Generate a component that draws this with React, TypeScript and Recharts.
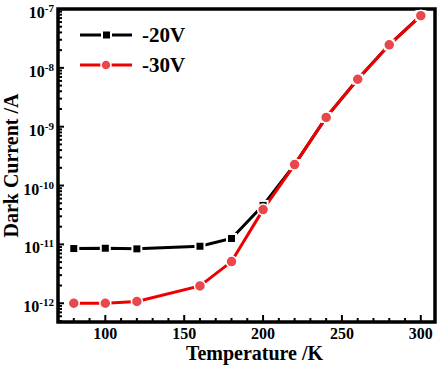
import { LineChart, Line, XAxis, YAxis, Legend, ReferenceArea } from 'recharts';

const temperatures = [80, 100, 120, 160, 180, 200, 220, 240, 260, 280, 300];
const current20V = [8.5e-12, 8.6e-12, 8.4e-12, 9.3e-12, 1.26e-11, 4.6e-11, 2.27e-10, 1.44e-9, 6.4e-9, 2.46e-8, 7.7e-8];
const current30V = [1.0e-12, 1.0e-12, 1.07e-12, 1.97e-12, 5.1e-12, 3.9e-11, 2.27e-10, 1.44e-9, 6.4e-9, 2.46e-8, 7.7e-8];

const xTicks = [80, 90, 100, 110, 120, 130, 140, 150, 160, 170, 180, 190, 200, 210, 220, 230, 240, 250, 260, 270, 280, 290, 300];
const xLabels = [100, 150, 200, 250, 300];
const yDecades = [-13, -12, -11, -10, -9, -8];
const yMantissas = [1, 2, 3, 4, 5, 6, 7, 8, 9];

const X_DOMAIN: [number, number] = [70, 309];
const Y_DOMAIN: [number, number] = [4.8e-13, 1e-7];

const yTicks = [
  ...yDecades.flatMap((e) => yMantissas.map((m) => m * Math.pow(10, e))),
  1e-7,
].filter((v) => v >= Y_DOMAIN[0] && v <= Y_DOMAIN[1]);

const data = temperatures.map((t, i) => ({
  t,
  v20: current20V[i],
  v30: current30V[i],
}));

const FONT = '"Liberation Serif", "Times New Roman", serif';
const RED_LINE = '#ee0000';
const RED_DOT = '#e8474c';

function XTick(props: any) {
  const { x, y, payload } = props;
  const v = payload.value;
  const major = v % 50 === 0;
  return (
    <g>
      <line x1={x} x2={x} y1={y} y2={y - (major ? 7 : 4)} stroke="#000" strokeWidth={2} />
      {major && xLabels.includes(v) && (
        <text x={x} y={y + 17} textAnchor="middle" fontFamily={FONT} fontWeight="bold" fontSize={16} fill="#000">
          {v}
        </text>
      )}
    </g>
  );
}

function YTick(props: any) {
  const { x, y, payload } = props;
  const v = payload.value;
  const exp = Math.round(Math.log10(v));
  const major = Math.abs(v / Math.pow(10, exp) - 1) < 1e-6;
  return (
    <g>
      <line x1={x} x2={x + (major ? 6 : 4)} y1={y} y2={y} stroke="#000" strokeWidth={2} />
      {major && (
        <text x={x - 4} y={y + 9} textAnchor="end" fontFamily={FONT} fontWeight="bold" fontSize={16} fill="#000">
          <tspan>10</tspan>
          <tspan fontSize={11} dy={-6}>{String(exp)}</tspan>
        </text>
      )}
    </g>
  );
}

function SquareDot(props: any) {
  const { cx, cy, index } = props;
  if (cx == null || cy == null) return null;
  return <rect key={`s${index}`} x={cx - 4.5} y={cy - 4.5} width={9} height={9} fill="#000" stroke="#fff" strokeWidth={2} />;
}

function CircleDot(props: any) {
  const { cx, cy, index } = props;
  if (cx == null || cy == null) return null;
  return <circle key={`c${index}`} cx={cx} cy={cy} r={5.5} fill={RED_DOT} stroke="#fff" strokeWidth={1.5} />;
}

function LegendBox() {
  const items = [
    { name: '-20V', color: '#000', shape: 'square', y: 35 },
    { name: '-30V', color: RED_LINE, shape: 'circle', y: 65 },
  ];
  return (
    <svg width={200} height={90} style={{ display: 'block' }}>
      {items.map((it) => (
        <g key={it.name}>
          <line x1={80} x2={132} y1={it.y} y2={it.y} stroke={it.color} strokeWidth={3} />
          {it.shape === 'square' ? (
            <rect x={102} y={it.y - 4.5} width={9} height={9} fill="#000" stroke="#fff" strokeWidth={2} />
          ) : (
            <circle cx={106} cy={it.y} r={5} fill={RED_DOT} stroke="#fff" strokeWidth={1.5} />
          )}
          <text x={142} y={it.y + 7} fontFamily={FONT} fontWeight="bold" fontSize={21} fill="#000">
            {it.name}
          </text>
        </g>
      ))}
    </svg>
  );
}

export default function App() {
  return (
    <div style={{ position: 'absolute', left: 0, top: 0, width: 446, height: 367, background: '#fff' }}>
      <LineChart width={446} height={367} data={data} margin={{ top: 9, right: 11, bottom: 0, left: 0 }}>
        <XAxis
          dataKey="t"
          type="number"
          domain={X_DOMAIN}
          ticks={xTicks}
          interval={0}
          allowDataOverflow
          height={45}
          tickSize={0}
          tickMargin={0}
          tickLine={false}
          axisLine={false}
          tick={<XTick />}
          label={(p: any) => {
            const vb = p.viewBox;
            return (
              <text x={vb.x + vb.width / 2 + 8} y={vb.y + 38} textAnchor="middle" fontFamily={FONT} fontWeight="bold" fontSize={20} fill="#000">
                Temperature /K
              </text>
            );
          }}
        />
        <YAxis
          type="number"
          scale="log"
          domain={Y_DOMAIN}
          ticks={yTicks}
          interval={0}
          allowDataOverflow
          width={58}
          tickSize={0}
          tickMargin={0}
          tickLine={false}
          axisLine={false}
          tick={<YTick />}
          label={(p: any) => {
            const vb = p.viewBox;
            const cy = vb.y + vb.height / 2;
            return (
              <text x={18} y={cy} transform={`rotate(-90, 18, ${cy})`} textAnchor="middle" fontFamily={FONT} fontWeight="bold" fontSize={20} fill="#000">
                Dark Current /A
              </text>
            );
          }}
        />
        <ReferenceArea
          x1={X_DOMAIN[0]}
          x2={X_DOMAIN[1]}
          y1={Y_DOMAIN[0]}
          y2={Y_DOMAIN[1]}
          fill="none"
          fillOpacity={0}
          stroke="#000"
          strokeWidth={3.5}
          ifOverflow="visible"
        />
        <Legend
          layout="vertical"
          align="center"
          verticalAlign="middle"
          wrapperStyle={{ left: 0, top: 0, width: 200, height: 90 }}
          content={() => <LegendBox />}
        />
        <Line dataKey="v20" name="-20V" stroke="#000" strokeWidth={3} dot={<SquareDot />} isAnimationActive={false} />
        <Line dataKey="v30" name="-30V" stroke={RED_LINE} strokeWidth={3} dot={<CircleDot />} isAnimationActive={false} />
      </LineChart>
    </div>
  );
}
